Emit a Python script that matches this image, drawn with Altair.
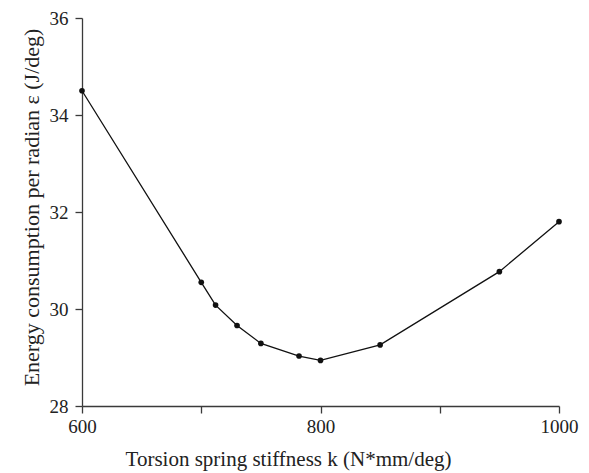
import altair as alt
import pandas as pd

stiffness = [600, 700, 712, 730, 750, 782, 800, 850, 950, 1000]
energy = [34.5, 30.55, 30.08, 29.66, 29.29, 29.03, 28.94, 29.26, 30.77, 31.8]
x_ticks = [600, 700, 800, 900, 1000]
y_ticks = [28, 30, 32, 34, 36]

df = pd.DataFrame({"k": stiffness, "e": energy})

FONT = "Liberation Serif"
AXIS_COLOR = "#3a3a3a"

x_enc = alt.X(
    "k:Q",
    scale=alt.Scale(domain=[600, 1000], nice=False, zero=False),
    axis=alt.Axis(
        values=x_ticks,
        labelExpr="datum.value % 200 == 0 ? datum.label : ''",
        title="Torsion spring stiffness k (N*mm/deg)",
        titleX=206,
        titleY=59,
        titleAlign="center",
        titleBaseline="alphabetic",
        titleFontSize=21,
        labelPadding=4,
        labelFlush=False,
        format="d",
    ),
)
y_enc = alt.Y(
    "e:Q",
    scale=alt.Scale(domain=[28, 36], nice=False, zero=False),
    axis=alt.Axis(
        values=y_ticks,
        title="Energy consumption per radian ε (J/deg)",
        titleX=-44,
        titleY=189,
        titleAngle=-90,
        titleAlign="center",
        titleBaseline="alphabetic",
        titleFontSize=22,
        labelPadding=7,
        labelFlush=False,
        format="d",
    ),
)

line = alt.Chart(df).mark_line(color="#111111", strokeWidth=1.3).encode(x=x_enc, y=y_enc)
pts = alt.Chart(df).mark_point(filled=True, color="#111111", size=32, opacity=1).encode(x="k:Q", y="e:Q")

chart = (
    alt.layer(line, pts)
    .properties(
        width=477,
        height=388,
        autosize=alt.AutoSizeParams(type="none"),
        padding={"left": 74, "top": 10, "right": 22, "bottom": 65},
    )
    .configure_view(stroke=None)
    .configure_axis(
        grid=False,
        domainColor=AXIS_COLOR,
        domainWidth=1.3,
        tickColor=AXIS_COLOR,
        tickWidth=1.3,
        tickSize=7,
        labelFont=FONT,
        labelFontSize=19,
        labelColor="#222222",
        titleFont=FONT,
        titleFontWeight="normal",
        titleColor="#222222",
    )
)

chart.save("out.html", embed_options={"renderer": "svg", "actions": False})
